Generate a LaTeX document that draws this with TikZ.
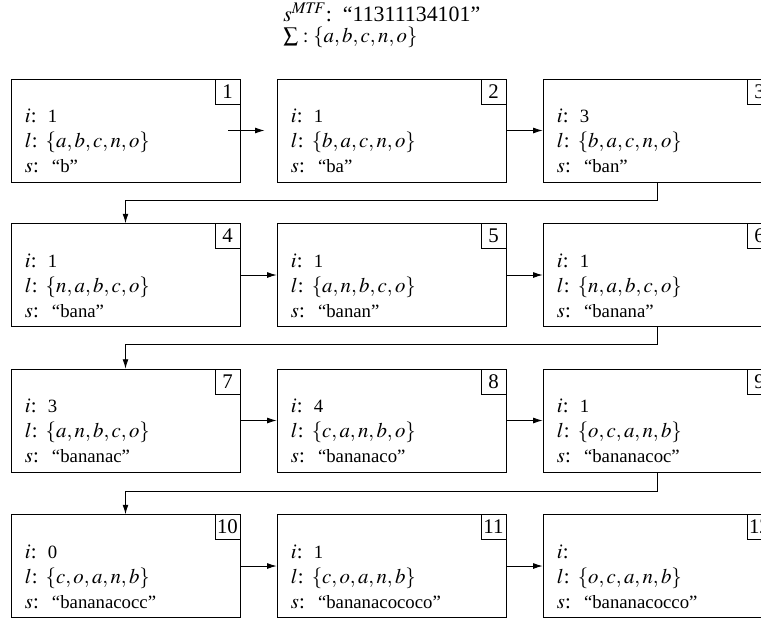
\documentclass[tikz,border=0pt]{standalone}
\usepackage{amsmath}
\usepackage{mathptmx}
\usepackage{fontspec}
\setmainfont{Liberation Serif}
\usepackage{tikz}
\usetikzlibrary{arrows.meta}
\newcommand{\valfont}{\fontsize{9}{12}\selectfont}
\newcommand{\mtfentry}[3]{\begin{tabular}[t]{@{}l@{\hspace{3.3pt}}l@{}}$i$: & \hspace{1pt}{\valfont #1}\\ $l$: & $\{#2\}$\\ $s$: & \hspace{3pt}{\valfont ``#3''}\end{tabular}}
\tikzset{
    stepbox/.style={draw, minimum width=109.9pt, minimum height=49.4pt, inner sep=0pt},
    numbox/.style={draw, anchor=north east, minimum size=12pt, inner sep=0pt},
    entrynode/.style={anchor=base west, inner sep=0pt},
    steparrow/.style={-{Latex[length=4.5pt,width=2.8pt]}}
}

\begin{document}
\begin{tikzpicture}[x=0.48pt,y=-0.48pt]
        \clip (0,0) rectangle (761,618);
        \useasboundingbox (0,0) rectangle (761,618);

        \node[entrynode] (hdr) at (283,21.5) {\begin{tabular}[t]{@{}l@{}}{\fontsize{10.5}{12}\selectfont$s^{\mathit{MTF}}$:\, ``11311134101''}\\[-2pt] $\sum : \{a,b,c,n,o\}$\end{tabular}};

        % row 1
        \node[stepbox] (b1) at (125.5,130.5) {};
        \node[numbox] (n1) at (b1.north east) {1};
        \node[entrynode] (t1) at ([shift={(6.7pt,-21.1pt)}]b1.north west) {\mtfentry{1}{a,b,c,n,o}{b}};
        \node[stepbox] (b2) at (391.5,130.5) {};
        \node[numbox] (n2) at (b2.north east) {2};
        \node[entrynode] (t2) at ([shift={(6.7pt,-21.1pt)}]b2.north west) {\mtfentry{1}{b,a,c,n,o}{ba}};
        \node[stepbox] (b3) at (657.5,130.5) {};
        \node[numbox] (n3) at (b3.north east) {3};
        \node[entrynode] (t3) at ([shift={(6.7pt,-21.1pt)}]b3.north west) {\mtfentry{3}{b,a,c,n,o}{ban}};

        % row 2
        \node[stepbox] (b4) at (125.5,275) {};
        \node[numbox] (n4) at (b4.north east) {4};
        \node[entrynode] (t4) at ([shift={(6.7pt,-21.1pt)}]b4.north west) {\mtfentry{1}{n,a,b,c,o}{bana}};
        \node[stepbox] (b5) at (391.5,275) {};
        \node[numbox] (n5) at (b5.north east) {5};
        \node[entrynode] (t5) at ([shift={(6.7pt,-21.1pt)}]b5.north west) {\mtfentry{1}{a,n,b,c,o}{banan}};
        \node[stepbox] (b6) at (657.5,275) {};
        \node[numbox] (n6) at (b6.north east) {6};
        \node[entrynode] (t6) at ([shift={(6.7pt,-21.1pt)}]b6.north west) {\mtfentry{1}{n,a,b,c,o}{banana}};

        % row 3
        \node[stepbox] (b7) at (125.5,420.5) {};
        \node[numbox] (n7) at (b7.north east) {7};
        \node[entrynode] (t7) at ([shift={(6.7pt,-21.1pt)}]b7.north west) {\mtfentry{3}{a,n,b,c,o}{bananac}};
        \node[stepbox] (b8) at (391.5,420.5) {};
        \node[numbox] (n8) at (b8.north east) {8};
        \node[entrynode] (t8) at ([shift={(6.7pt,-21.1pt)}]b8.north west) {\mtfentry{4}{c,a,n,b,o}{bananaco}};
        \node[stepbox] (b9) at (657.5,420.5) {};
        \node[numbox] (n9) at (b9.north east) {9};
        \node[entrynode] (t9) at ([shift={(6.7pt,-21.1pt)}]b9.north west) {\mtfentry{1}{o,c,a,n,b}{bananacoc}};

        % row 4
        \node[stepbox] (b10) at (125.5,566) {};
        \node[numbox] (n10) at (b10.north east) {10};
        \node[entrynode] (t10) at ([shift={(6.7pt,-21.1pt)}]b10.north west) {\mtfentry{0}{c,o,a,n,b}{bananacocc}};
        \node[stepbox] (b11) at (391.5,566) {};
        \node[numbox] (n11) at (b11.north east) {11};
        \node[entrynode] (t11) at ([shift={(6.7pt,-21.1pt)}]b11.north west) {\mtfentry{1}{c,o,a,n,b}{bananacococo}};
        \node[stepbox] (b12) at (657.5,566) {};
        \node[numbox] (n12) at (b12.north east) {12};
        \node[entrynode] (t12) at ([shift={(6.7pt,-21.1pt)}]b12.north west) {\mtfentry{}{o,c,a,n,b}{bananacocco}};

        \draw[steparrow] ([xshift=-5.8pt]b1.east) -- ([xshift=-5.8pt]b2.west);
        \draw[steparrow] (b2.east) -- (b3.west);
        \draw[steparrow] (b3.south) -- ++(0,18) -| (b4.north);
        \draw[steparrow] (b4.east) -- (b5.west);
        \draw[steparrow] (b5.east) -- (b6.west);
        \draw[steparrow] (b6.south) -- ++(0,18) -| (b7.north);
        \draw[steparrow] (b7.east) -- (b8.west);
        \draw[steparrow] (b8.east) -- (b9.west);
        \draw[steparrow] (b9.south) -- ++(0,19) -| (b10.north);
        \draw[steparrow] (b10.east) -- (b11.west);
        \draw[steparrow] (b11.east) -- (b12.west);
    \end{tikzpicture}
\end{document}
